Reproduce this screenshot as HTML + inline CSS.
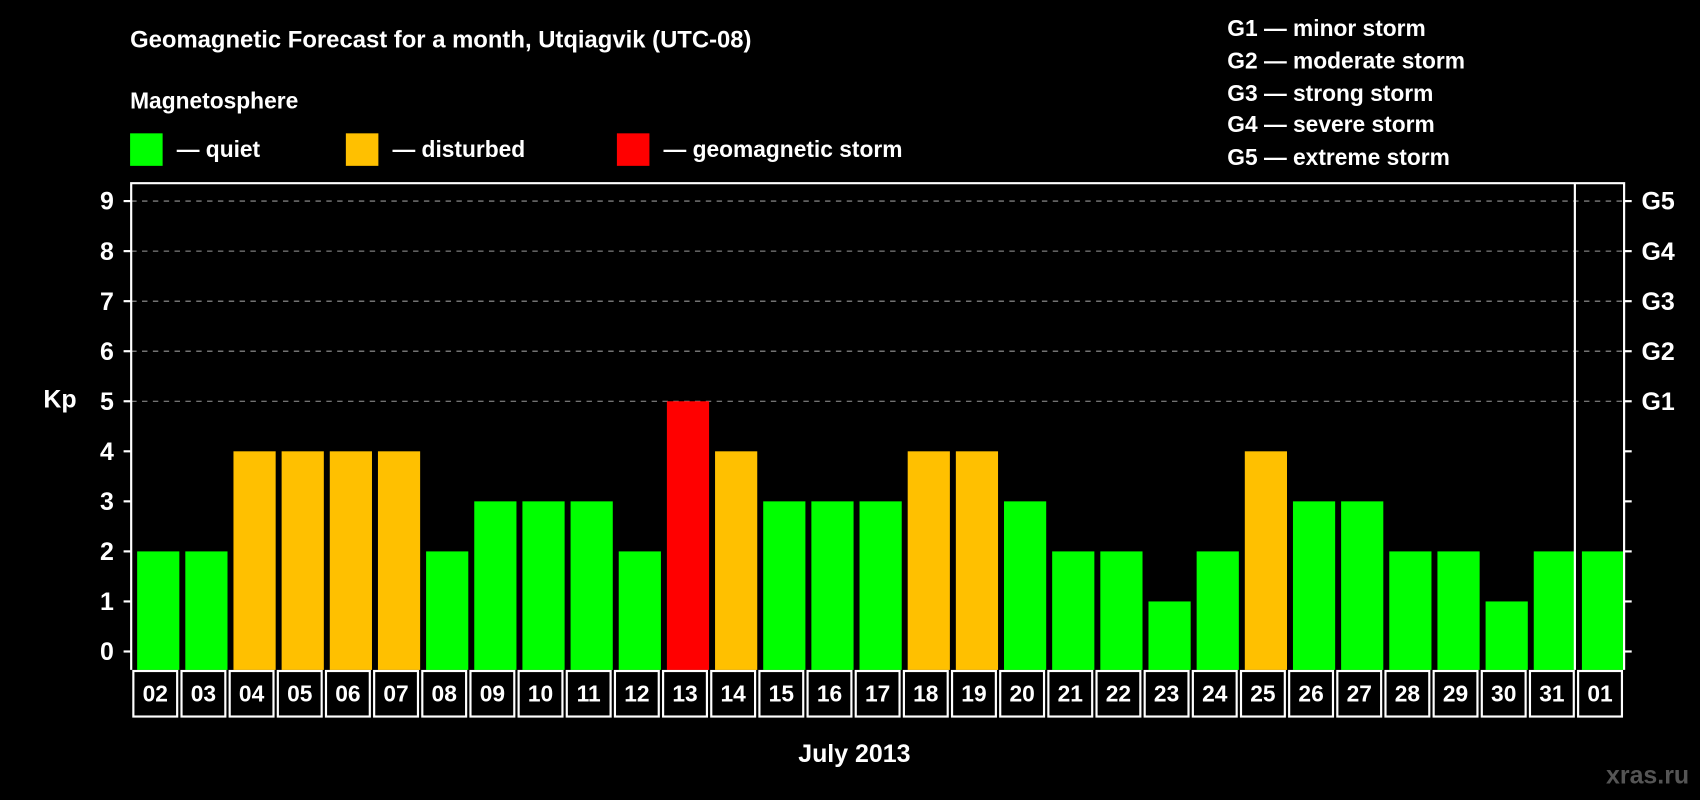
<!DOCTYPE html>
<html><head><meta charset="utf-8"><style>
html,body{margin:0;padding:0;background:#000;}
svg{display:block;font-family:"Liberation Sans",Arial,sans-serif;font-weight:bold;}
</style></head><body>
<svg id="chart" width="1700" height="800" viewBox="0 0 1568 738" preserveAspectRatio="none" xmlns="http://www.w3.org/2000/svg">
<rect width="1568" height="738" fill="#000"/>
<text x="120" y="44" fill="#fff" font-size="22">Geomagnetic Forecast for a month, Utqiagvik (UTC-08)</text>
<text x="120" y="100" fill="#fff" font-size="21">Magnetosphere</text>
<g><rect x="120" y="123" width="30" height="30" fill="#00ff00"/><text x="163" y="145" fill="#fff" font-size="21">— quiet</text></g>
<g><rect x="319" y="123" width="30" height="30" fill="#ffc000"/><text x="362" y="145" fill="#fff" font-size="21">— disturbed</text></g>
<g><rect x="569" y="123" width="30" height="30" fill="#ff0000"/><text x="612" y="145" fill="#fff" font-size="21">— geomagnetic storm</text></g>
<g fill="#fff" font-size="21">
<text x="1132" y="33">G1 — minor storm</text>
<text x="1132" y="63">G2 — moderate storm</text>
<text x="1132" y="93">G3 — strong storm</text>
<text x="1132" y="122">G4 — severe storm</text>
<text x="1132" y="152">G5 — extreme storm</text>
</g>
<text x="40" y="376" fill="#fff" font-size="23">Kp</text>
<text x="788" y="703" fill="#fff" font-size="23" text-anchor="middle">July 2013</text>
<text x="1558" y="723" fill="#555" font-size="23" text-anchor="end">xras.ru</text>
<g id="grid"></g><g id="bars"></g><g id="axes"></g>
</svg>
<script>
const days=["02","03","04","05","06","07","08","09","10","11","12","13","14","15","16","17","18","19","20","21","22","23","24","25","26","27","28","29","30","31","01"];
const kp=[2,2,4,4,4,4,2,3,3,3,2,5,4,3,3,3,4,4,3,2,2,1,2,4,3,3,2,2,1,2,2];
const yTicks=[0,1,2,3,4,5,6,7,8,9];
const gLabels=["G1","G2","G3","G4","G5"];
const gLevels=[5,6,7,8,9];
const NS="http://www.w3.org/2000/svg";
const L=121,R=1498,T=169,B=618,Y0=601,Y9=185.5;
const slot=(R-L)/days.length;
const y=v=>Y0-(Y0-Y9)*v/9;
const x=i=>L+i*slot;
function mk(p,t,a){const e=document.createElementNS(NS,t);for(const k in a)e.setAttribute(k,a[k]);p.appendChild(e);return e;}
const grid=document.getElementById('grid'),bars=document.getElementById('bars'),axes=document.getElementById('axes');
yTicks.forEach(v=>{
 if(v>=5){const g=mk(grid,'line',{x1:L,x2:R,y1:y(v),y2:y(v),stroke:'#999','stroke-dasharray':'5,5','stroke-width':1});
 
 }
 mk(axes,'line',{x1:L-7,x2:L,y1:y(v),y2:y(v),stroke:'#fff','stroke-width':2});
 mk(axes,'line',{x1:R,x2:R+7,y1:y(v),y2:y(v),stroke:'#fff','stroke-width':2});
 const t=mk(axes,'text',{x:105,y:y(v)+8,fill:'#fff','font-size':23,'text-anchor':'end'});t.textContent=v;
 
 
});
gLabels.forEach((g,i)=>{const t=mk(axes,'text',{x:1514,y:y(gLevels[i])+8,fill:'#fff','font-size':23});t.textContent=g;
 
 });
kp.forEach((v,i)=>{
 const c=v>=5?'#ff0000':v>=4?'#ffc000':'#00ff00';
 const r=mk(bars,'rect',{x:x(i)+5.5,y:y(v),width:slot-5.5,height:B-y(v),fill:c});
 
 
 mk(axes,'rect',{x:x(i)+2,y:B+1,width:slot-4,height:42,fill:'none',stroke:'#fff','stroke-width':2});
 const t=mk(axes,'text',{x:x(i)+slot/2,y:B+29,fill:'#fff','font-size':21,'text-anchor':'middle'});t.textContent=days[i];
 
 
});
mk(axes,'polyline',{points:`${L},${B} ${L},${T} ${R},${T} ${R},${B}`,fill:'none',stroke:'#fff','stroke-width':2});
mk(axes,'line',{x1:x(days.length-1)-1,x2:x(days.length-1)-1,y1:T,y2:B,stroke:'#fff','stroke-width':2});
</script>
</body></html>
